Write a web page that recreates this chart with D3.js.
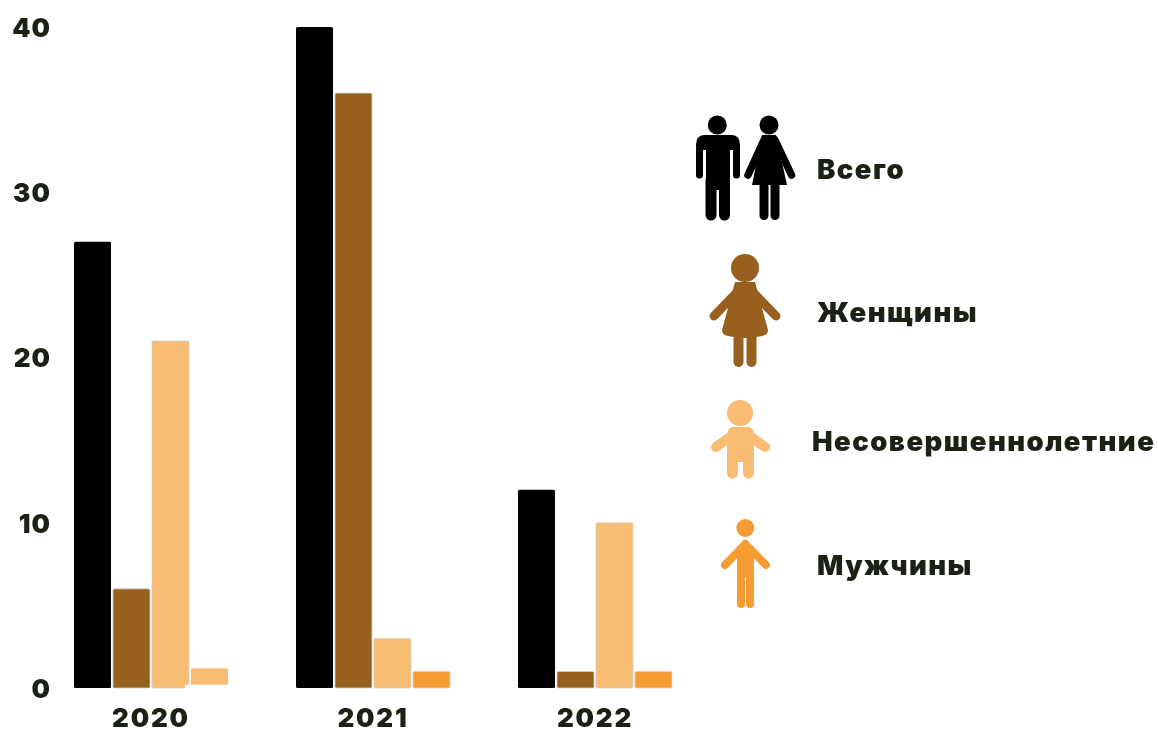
<!DOCTYPE html>
<html><head><meta charset="utf-8">
<script src="https://cdnjs.cloudflare.com/ajax/libs/d3/7.8.5/d3.min.js"></script>
<style>html,body{margin:0;background:#fff}svg{display:block;filter:blur(0.35px)}
text{font-family:Inter,"Open Sans",sans-serif;font-weight:900;fill:#1c2115}</style>
</head><body><svg id="c" width="1158" height="729"></svg>
<script>
const years=["2020","2021","2022"];
const seriesNames=["Всего","Женщины","Несовершеннолетние","Мужчины"];
const total=[27,40,12];
const women=[6,36,1];
const minors=[21,3,10];
const men=[1.2,1,1];
const yTicks=[0,10,20,30,40];
const colors=["#000000","#97601f","#f9bc73","#f59d33"];
const values=[total,women,minors,men];

const svg=d3.select("#c");
const y=d3.scaleLinear().domain([0,40]).range([688,27]);
const x0=d3.scaleBand().domain(years).range([74,672]).paddingInner(0.3063).paddingOuter(0);
const x1=d3.scaleBand().domain(seriesNames).range([0,x0.bandwidth()]).paddingInner(0.051).paddingOuter(0);

years.forEach((yr,i)=>{
  const g=svg.append("g").attr("transform",`translate(${x0(yr)},0)`);
  g.selectAll("rect").data(seriesNames).join("rect")
    .attr("x",d=>x1(d))
    .attr("y",(d,j)=>y(values[j][i]))
    .attr("width",x1.bandwidth())
    .attr("height",(d,j)=>y(0)-y(values[j][i]))
    .attr("rx",1.5)
    .attr("fill",(d,j)=>(i===0&&j===3)?colors[2]:colors[j])
    .attr("stroke",(d,j)=>j===0?"none":"#d8d2c8")
    .attr("stroke-width",(d,j)=>(i===0&&j===3)?0:0.8);
});
// the source picture has a white patch trimming the base of the first group's right side
svg.append("rect").attr("x",x0("2020")+x1("Несовершеннолетние")+x1.bandwidth()-4).attr("y",y(0)-3.3)
  .attr("width",52).attr("height",6).attr("fill","#fff");

const yAxis=svg.append("g").attr("transform","translate(51,0)")
  .call(d3.axisLeft(y).tickValues(yTicks).tickSize(0).tickPadding(0));
yAxis.select(".domain").remove();
yAxis.selectAll("text").style("font-size","26px").style("letter-spacing","1px").attr("dy","0.36em")
  .style("font-family","Inter,sans-serif");
const xAxis=svg.append("g").attr("transform","translate(0,706)")
  .call(d3.axisBottom(x0).tickSize(0).tickPadding(0));
xAxis.select(".domain").remove();
xAxis.selectAll("text").style("font-size","26px").style("letter-spacing","1.8px").attr("dy","0.8em")
  .style("font-family","Inter,sans-serif");

const legendX=[817,817,812,817];
const legendY=[169,312,441,565];
svg.selectAll("text.leg").data(seriesNames).join("text").attr("class","leg")
  .attr("x",(d,i)=>legendX[i]).attr("y",(d,i)=>legendY[i]).attr("dy","0.36em")
  .style("font-size","27.5px").style("letter-spacing","1.45px").text(d=>d);

function figure(col,head,r,limbs,fills){
  const g=svg.append("g");
  g.append("circle").attr("cx",head[0]).attr("cy",head[1]).attr("r",r).attr("fill",col);
  fills.forEach(d=>g.append("path").attr("d",d).attr("fill",col));
  limbs.forEach(l=>g.append("path").attr("d",l.d).attr("fill","none").attr("stroke",col).attr("stroke-width",l.w).attr("stroke-linecap","round").attr("stroke-linejoin","round"));
  return g;
}
// man (black)
figure(colors[0],[717.3,125],9.5,[
 {d:"M699.5,146V175",w:7},{d:"M736.5,146V175",w:7},
 {d:"M711,180V215",w:11},{d:"M724.5,180V215",w:11}
],["M704,135H732Q740,135 740,146V150H730V190H706V150H696V146Q696,135 704,135Z"]);
// woman (black)
figure(colors[0],[769,125],9.5,[
 {d:"M764,140L748,175",w:7.5},{d:"M775,140L791.5,175",w:7.5},
 {d:"M764,185V215.5",w:9},{d:"M775,185V215.5",w:9}
],["M762,135H776L787,185H752Z"]);
// woman (brown)
figure(colors[1],[745,268],14,[
 {d:"M741,288L714,316",w:9},{d:"M749,288L776,316",w:9},
 {d:"M738.5,335V362",w:10},{d:"M751.5,335V362",w:10}
],["M735,282H755L768,330Q768,335 762,336Q745,340 728,336Q722,335 722,330Z"]);
// child
figure(colors[2],[740,413],13,[
 {d:"M737,432L716,447",w:10},{d:"M744,432L765,447",w:10},
 {d:"M732.5,455V473",w:11},{d:"M748.5,455V473",w:11}
],["M733,427H748Q753,427 754,434V462H727V434Q728,427 733,427Z"]);
// man (orange)
figure(colors[3],[745.3,528],9,[
 {d:"M745.3,544L725,565",w:8},{d:"M745.3,544L766,565",w:8},
 {d:"M741,575V604",w:8},{d:"M750,575V604",w:8}
],["M737,546H754V578H737Z"]);
</script></body></html>
